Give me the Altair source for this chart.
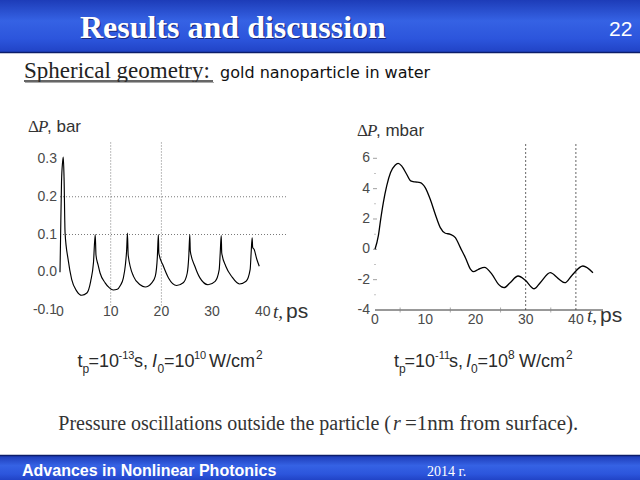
import altair as alt
import pandas as pd

# ---------------- data ----------------
# Left panel: tp=1e-13 s, I0=1e10 W/cm2  (t in ps, dP in bar)
t_left = [0.0, 0.1, 0.3, 0.5, 0.65, 0.8, 1.0, 1.6, 2.3, 3.3, 4.3, 5.3, 6.05, 6.6, 6.95,
          7.1, 7.5, 7.9, 8.9, 9.8, 10.5, 11.3, 11.9, 12.5, 12.9, 13.15, 13.3,
          13.45, 14.5, 15.8, 16.8, 18.1, 18.8, 19.2, 19.4,
          19.5, 20.4, 21.4, 23.0, 24.3, 25.1, 25.4, 25.6,
          25.7, 26.6, 27.6, 29.2, 30.6, 31.4, 31.6, 31.8,
          31.9, 32.7, 33.9, 35.4, 36.7, 37.5, 37.7, 37.9,
          38.0, 38.3, 38.8, 39.3]
p_left = [0.0, 0.08, 0.24, 0.29, 0.305, 0.25, 0.105, 0.034, -0.019, -0.05, -0.061, -0.055, -0.024, 0.025, 0.1,
          0.045, 0.02, -0.002, -0.028, -0.042, -0.047, -0.045, -0.035, -0.015, 0.02, 0.06, 0.104,
          0.045, -0.011, -0.033, -0.039, -0.028, -0.01, 0.04, 0.1,
          0.05, 0.016, -0.015, -0.035, -0.028, -0.002, 0.042, 0.1,
          0.056, 0.016, -0.015, -0.033, -0.024, 0.007, 0.051, 0.097,
          0.051, 0.016, -0.012, -0.031, -0.024, 0.007, 0.051, 0.091,
          0.066, 0.06, 0.035, 0.016]

# Right panel: tp=1e-11 s, I0=1e8 W/cm2  (t in ps, dP in mbar)
t_right = [0.0, 0.66, 1.13, 1.66, 2.33, 3.1, 4.0, 4.6, 5.3, 6.3, 7.1, 8.0, 9.0, 10.0, 11.0,
           12.0, 13.0, 14.0, 15.0, 16.0, 17.0, 18.0, 19.0, 19.6, 20.6, 21.8, 23.3, 24.6,
           25.7, 26.9, 28.5, 29.9, 31.7, 32.9, 34.9, 36.5, 37.8, 39.2, 41.4, 43.4]
p_right = [0.0, 0.88, 1.98, 3.08, 4.18, 5.06, 5.54, 5.66, 5.5, 4.95, 4.51, 4.44, 4.4, 4.07, 3.3,
           2.31, 1.43, 1.06, 0.99, 0.77, 0.11, -0.55, -1.3, -1.47, -1.32, -1.19, -1.65, -2.31,
           -2.53, -2.2, -1.76, -2.03, -2.6, -2.2, -1.54, -1.93, -2.2, -1.72, -1.1, -1.54]

left_x_ticks = [0, 10, 20, 30, 40]
left_y_ticks = [-0.1, 0.0, 0.1, 0.2, 0.3]
left_vgrid = [10, 20]
left_hgrid = [0.1, 0.2]
right_x_ticks = [0, 10, 20, 30, 40]
right_x_minor = [5, 15, 25, 35]
right_y_ticks = [-4, -2, 0, 2, 4, 6]
right_y_minor = [-3, -1, 1, 3, 5]
right_vgrid = [30, 40]

one = pd.DataFrame({"k": [0]})
LAB = "#4a4a4a"
LFS = 14


def txt(s, x, y, size, color="#222222", font="Liberation Sans", weight="normal",
        style="normal", align="left"):
    return alt.Chart(one).mark_text(
        text=s, fontSize=size, font=font, fontWeight=weight, fontStyle=style,
        color=color, align=align, baseline="alphabetic"
    ).encode(x=alt.value(x), y=alt.value(y))


def band(y0, y1):
    grad = alt.Gradient(
        gradient="linear",
        stops=[alt.GradientStop(color="#1d3cb8", offset=0),
               alt.GradientStop(color="#3562e4", offset=0.4),
               alt.GradientStop(color="#2c55dc", offset=0.75),
               alt.GradientStop(color="#2143c6", offset=1)],
        x1=0, x2=0, y1=0, y2=1)
    return alt.Chart(one).mark_rect(color=grad).encode(
        x=alt.value(0), x2=alt.value(640), y=alt.value(y0), y2=alt.value(y1))


def hline(y, x0, x1, color, w):
    return alt.Chart(one).mark_rule(color=color, strokeWidth=w).encode(
        x=alt.value(x0), x2=alt.value(x1), y=alt.value(y))


# ---------------- left panel ----------------
LX = alt.Scale(domain=[0, 40], range=[60, 262.8], nice=False, zero=False)
LY = alt.Scale(domain=[-0.1, 0.3], range=[310, 159], nice=False, zero=False)

dfL = pd.DataFrame({"t": t_left, "p": p_left})
lineL = alt.Chart(dfL).mark_line(color="black", strokeWidth=1.15, interpolate="monotone").encode(
    x=alt.X("t:Q", scale=LX, axis=None),
    y=alt.Y("p:Q", scale=LY, axis=None),
)
vgL = alt.Chart(pd.DataFrame({"t": left_vgrid})).mark_rule(
    color="#7a7a7a", strokeWidth=1, strokeDash=[1, 2]).encode(
    x=alt.X("t:Q", axis=None),
    y=alt.YDatum(-0.088, axis=None), y2=alt.Y2Datum(0.345))
hgL = alt.Chart(pd.DataFrame({"p": left_hgrid})).mark_rule(
    color="#7a7a7a", strokeWidth=1, strokeDash=[1, 2]).encode(
    y=alt.Y("p:Q", axis=None),
    x=alt.XDatum(0, axis=None), x2=alt.X2Datum(44.8))
lxlab = alt.Chart(pd.DataFrame({"t": left_x_ticks, "lab": [str(v) for v in left_x_ticks]})).mark_text(
    font="Liberation Sans", fontSize=LFS, color=LAB, align="center", baseline="middle", dy=2).encode(
    x=alt.X("t:Q", axis=None), y=alt.YDatum(-0.1, axis=None), text="lab:N")
lylab = alt.Chart(pd.DataFrame({"p": left_y_ticks, "lab": [f"{v:.1f}" for v in left_y_ticks]})).mark_text(
    font="Liberation Sans", fontSize=LFS, color=LAB, align="right", baseline="middle", dx=-3).encode(
    y=alt.Y("p:Q", axis=None), x=alt.XDatum(0, axis=None), text="lab:N")
left = alt.layer(vgL, hgL, lxlab, lylab, lineL)

# ---------------- right panel ----------------
RX = alt.Scale(domain=[0, 45.4], range=[375, 603], nice=False, zero=False)
RY = alt.Scale(domain=[-4, 6], range=[310, 158.3], nice=False, zero=False)

dfR = pd.DataFrame({"t": t_right, "p": p_right})
lineR = alt.Chart(dfR).mark_line(color="black", strokeWidth=1.3, interpolate="monotone").encode(
    x=alt.X("t:Q", scale=RX, axis=None),
    y=alt.Y("p:Q", scale=RY, axis=None),
)
vgR = alt.Chart(pd.DataFrame({"t": right_vgrid})).mark_rule(
    color="#666666", strokeWidth=1, strokeDash=[2, 2]).encode(
    x=alt.X("t:Q", axis=None),
    y=alt.YDatum(-4, axis=None), y2=alt.Y2Datum(7.05))
domR = alt.Chart(one).mark_rule(color="#333333", strokeWidth=1).encode(
    x=alt.XDatum(0, axis=None), x2=alt.X2Datum(45.4), y=alt.YDatum(-4, axis=None))
rxminor = alt.Chart(pd.DataFrame({"t": right_x_minor})).mark_tick(
    orient="vertical", size=5, thickness=1, color="#888888").encode(
    x=alt.X("t:Q", axis=None), y=alt.YDatum(-4, axis=None))
rytick = alt.Chart(pd.DataFrame({"p": right_y_ticks[1:]})).mark_tick(
    orient="horizontal", size=4, thickness=1, color="#777777").encode(
    y=alt.Y("p:Q", axis=None), x=alt.XDatum(0, axis=None))
ryminor = alt.Chart(pd.DataFrame({"p": right_y_minor})).mark_tick(
    orient="horizontal", size=2, thickness=1, color="#aaaaaa").encode(
    y=alt.Y("p:Q", axis=None), x=alt.XDatum(0, axis=None))
rxlab = alt.Chart(pd.DataFrame({"t": right_x_ticks, "lab": [str(v) for v in right_x_ticks]})).mark_text(
    font="Liberation Sans", fontSize=LFS, color=LAB, align="center", baseline="middle", dy=10).encode(
    x=alt.X("t:Q", axis=None), y=alt.YDatum(-4, axis=None), text="lab:N")
rylab = alt.Chart(pd.DataFrame({"p": right_y_ticks, "lab": [str(v) for v in right_y_ticks]})).mark_text(
    font="Liberation Sans", fontSize=LFS, color=LAB, align="right", baseline="middle", dx=-5).encode(
    y=alt.Y("p:Q", axis=None), x=alt.XDatum(0, axis=None), text="lab:N")
right = alt.layer(vgR, domR, rxminor, rytick, ryminor, rxlab, rylab, lineR)

# ---------------- slide decorations ----------------
C = "#2a2a2a"
deco = [
    band(0, 52),
    hline(52.5, 0, 640, "#0c1d6a", 1.5),
    band(456, 480),
    hline(455.5, 0, 640, "#0c1d6a", 1.5),
    txt("Results and discussion", 81, 39, 32, color="#1a2a7a", font="Liberation Serif", weight="bold"),
    txt("Results and discussion", 80, 38, 32, color="white", font="Liberation Serif", weight="bold"),
    txt("22", 609, 36, 21, color="white"),
    txt("Spherical geometry:", 24, 78, 23, color="#222222", font="Liberation Serif"),
    hline(81, 24, 213, "#333333", 1.5),
    hline(82.5, 25, 214, "#aaaaaa", 1.2),
    txt("gold nanoparticle in water", 220, 78, 16, color="#111111", font="DejaVu Sans"),
    # axis titles
    txt("Δ", 28, 131.5, 17, color="#333333", font="Liberation Serif"),
    txt("P", 38, 131.5, 17, color="#333333", font="Liberation Serif", style="italic"),
    txt(", bar", 47, 131.5, 17, color="#333333"),
    txt("t,", 273, 318, 19, color="#333333", font="Liberation Serif", style="italic"),
    txt("ps", 286, 318, 21, color="#333333"),
    txt("Δ", 357, 136, 17, color="#333333", font="Liberation Serif"),
    txt("P", 367, 136, 17, color="#333333", font="Liberation Serif", style="italic"),
    txt(", mbar", 376, 136, 17, color="#333333"),
    txt("t,", 587, 322, 19, color="#333333", font="Liberation Serif", style="italic"),
    txt("ps", 600, 322, 21, color="#333333"),
    # left caption
    txt("t", 77.5, 367, 18, color=C),
    txt("p", 82.5, 373, 12, color=C),
    txt("=10", 88.5, 367, 18, color=C),
    txt("-13", 118.5, 359, 11, color=C),
    txt("s,", 134, 367, 18, color=C),
    txt("I", 152, 367, 18, color=C, style="italic"),
    txt("0", 157.5, 373, 12, color=C),
    txt("=10", 164, 367, 18, color=C),
    txt("10", 194, 359, 11, color=C),
    txt("W/cm", 209, 367, 18, color=C),
    txt("2", 256, 359, 12, color=C),
    # right caption
    txt("t", 394, 367, 18, color=C),
    txt("p", 399, 373, 12, color=C),
    txt("=10", 404.5, 367, 18, color=C),
    txt("-11", 435, 359, 11, color=C),
    txt("s,", 449, 367, 18, color=C),
    txt("I", 466, 367, 18, color=C, style="italic"),
    txt("0", 471, 373, 12, color=C),
    txt("=10", 477.5, 367, 18, color=C),
    txt("8", 508, 359, 12, color=C),
    txt("W/cm", 519, 367, 18, color=C),
    txt("2", 566, 359, 12, color=C),
    # bottom caption
    txt("Pressure oscillations outside the particle (", 391, 430, 20, color="#333333",
        font="Liberation Serif", align="right"),
    txt("r", 393, 430, 20, color="#333333", font="Liberation Serif", style="italic"),
    txt("=1nm from surface).", 405, 430, 21, color="#333333", font="Liberation Serif"),
    # footer
    txt("Advances in Nonlinear Photonics", 22, 476, 16, color="white", weight="bold"),
    txt("2014 г.", 427, 476, 14, color="white", font="Liberation Serif"),
]

chart = alt.layer(*deco, left, right).resolve_scale(
    x="independent", y="independent"
).properties(
    width=640, height=480, padding=0, autosize=alt.AutoSizeParams(type="none"),
    background="white"
).configure_view(stroke=None)

chart.save("out.html", embed_options={"renderer": "svg", "actions": False})
